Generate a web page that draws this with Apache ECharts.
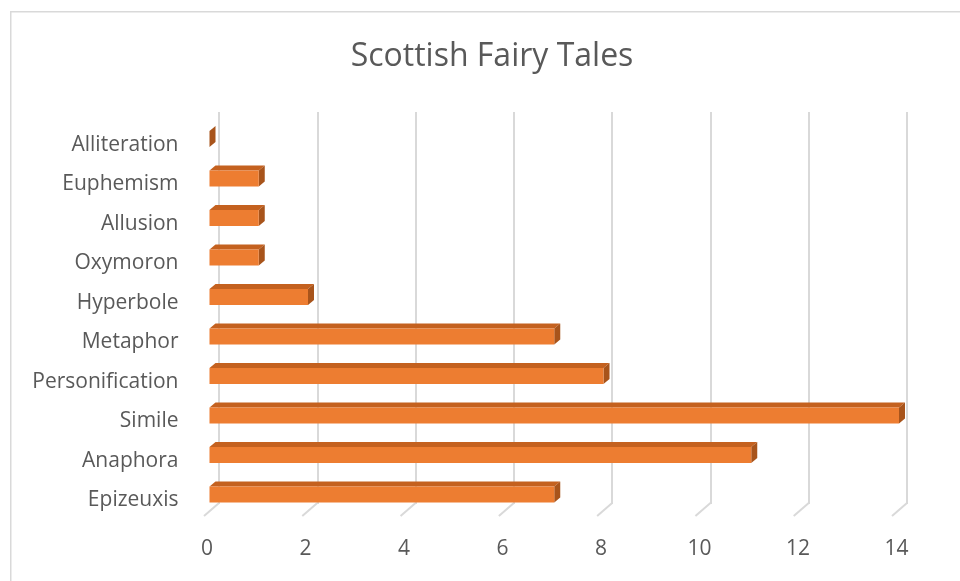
<!DOCTYPE html>
<html>
<head>
<meta charset="utf-8">
<script src="https://cdn.jsdelivr.net/npm/echarts@6/dist/echarts.min.js"></script>
<style>html,body{margin:0;padding:0;background:#fff}#c{width:960px;height:581px}</style>
</head>
<body>
<div id="c"></div>
<script>
var categories = ['Epizeuxis','Anaphora','Simile','Personification','Metaphor','Hyperbole','Oxymoron','Allusion','Euphemism','Alliteration'];
var values = [7, 11, 14, 8, 7, 2, 1, 1, 1, 0];
var tickValues = [0, 2, 4, 6, 8, 10, 12, 14];
var titleText = 'Scottish Fairy Tales';

var FONT = '"Open Sans", sans-serif';
var TXT = '#595959';
var DX = 6, DY = 5, BH = 16;

var chart = echarts.init(document.getElementById('c'), null, {renderer: 'canvas'});
chart.setOption({
  animation: false,
  backgroundColor: '#fff',
  graphic: [{
    type: 'rect', left: 10, top: 11, z: -10,
    shape: {width: 980, height: 620},
    style: {fill: '#fff', stroke: '#d9d9d9', lineWidth: 1.5}
  }],
  title: {
    text: titleText, left: 487, top: 36, textAlign: 'center',
    textStyle: {fontFamily: FONT, fontSize: 32, fontWeight: 'normal', color: TXT}
  },
  grid: [
    {left: 219, right: 53, top: 112, bottom: 77},
    {left: 209.5, right: 61, top: 119.25, bottom: 66.75},
    {left: 209.5, right: 61, top: 125, bottom: 61}
  ],
  xAxis: [
    {gridIndex: 0, type: 'value', min: 0, max: 14, interval: 2,
     axisLine: {show: false}, axisTick: {show: false}, axisLabel: {show: false},
     splitLine: {show: true, lineStyle: {color: '#d9d9d9', width: 2}}},
    {gridIndex: 1, type: 'value', min: 0, max: 14, interval: 2,
     axisLine: {show: false}, axisTick: {show: false}, splitLine: {show: false},
     axisLabel: {show: true, margin: 24, color: TXT, fontFamily: FONT, fontSize: 21, padding: [0, 5, 0, 0]}},
    {gridIndex: 2, type: 'value', min: 0, max: 14, show: false}
  ],
  yAxis: [
    {gridIndex: 0, type: 'value', min: 0, max: 1, show: false},
    {gridIndex: 1, type: 'category', data: categories,
     axisLine: {show: false}, axisTick: {show: false}, splitLine: {show: false}, axisLabel: {show: false}},
    {gridIndex: 2, type: 'category', data: categories,
     axisLine: {show: false}, axisTick: {show: false}, splitLine: {show: false},
     axisLabel: {margin: 31, color: TXT, fontFamily: FONT, fontSize: 21}}
  ],
  series: [
    {
      type: 'custom', xAxisIndex: 0, yAxisIndex: 0,
      data: tickValues.map(function (v) { return [v, 0]; }),
      renderItem: function (params, api) {
        var p = api.coord([api.value(0), 0]);
        return {type: 'line', shape: {x1: p[0], y1: p[1] - 1, x2: p[0] - 15, y2: p[1] + 12},
          style: {stroke: '#d9d9d9', lineWidth: 2}};
      },
      silent: true
    },
    {
      type: 'custom', xAxisIndex: 1, yAxisIndex: 1,
      data: values.map(function (v, i) { return [v, i]; }),
      renderItem: function (params, api) {
        var p0 = api.coord([0, api.value(1)]);
        var p1 = api.coord([api.value(0), api.value(1)]);
        var x0 = p0[0], x1 = p1[0], yt = p0[1] - BH / 2, yb = p0[1] + BH / 2;
        var children = [];
        children.push({type: 'polygon', shape: {points: [[x0, yt], [x1, yt], [x1 + DX, yt - DY], [x0 + DX, yt - DY]]},
          style: {fill: '#C4611F'}});
        children.push({type: 'polygon', shape: {points: [[x1, yt], [x1 + DX, yt - DY], [x1 + DX, yb - DY], [x1, yb]]},
          style: {fill: '#A8541B'}});
        if (x1 > x0) {
          children.push({type: 'rect', shape: {x: x0, y: yt, width: x1 - x0, height: BH},
            style: {fill: '#ED7D31'}});
        }
        return {type: 'group', children: children};
      },
      silent: true
    }
  ]
});
</script>
</body>
</html>
